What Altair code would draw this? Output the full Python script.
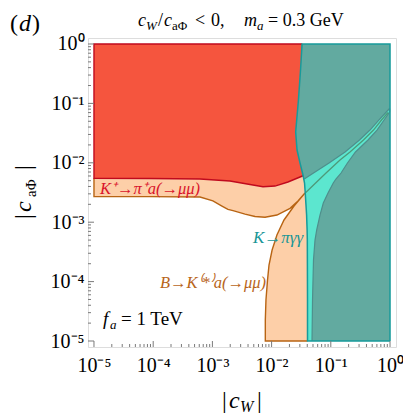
import altair as alt
import pandas as pd

# ---------------- data ----------------
# K+ -> pi+ a(->mu mu): lower boundary of the red excluded region
red_x = [1e-5, 8.83e-5, 6.18e-4, 1.98e-3, 4.32e-3, 7.16e-3, 1.14e-2, 1.89e-2, 3.02e-2, 3.81e-2]
red_y = [5.48e-3, 5.44e-3, 5.33e-3, 4.94e-3, 4.32e-3, 3.96e-3, 4.06e-3, 4.75e-3, 5.77e-3, 6.35e-3]

# B -> K(*) a(->mu mu): lower boundary (left part) of the orange region
bk_low_x = [1e-5, 8.83e-5, 6.18e-4, 1.02e-3, 1.45e-3, 1.83e-3, 2.23e-3, 3.56e-3, 5.25e-3,
            7.74e-3, 1.23e-2, 2.05e-2, 2.79e-2, 3.66e-2]
bk_low_y = [2.69e-3, 2.69e-3, 2.66e-3, 2.28e-3, 1.87e-3, 1.64e-3, 1.57e-3, 1.37e-3, 1.25e-3,
            1.21e-3, 1.32e-3, 1.71e-3, 2.28e-3, 3.10e-3]
# right (vertical) part of the orange region, x as function of y
bk_right_y = [3.10e-3, 1.87e-3, 1.09e-3, 6.09e-4, 3.40e-4, 1.90e-4, 1.06e-4, 4.90e-5, 2.26e-5, 1e-5]
bk_right_x = [3.66e-2, 2.39e-2, 1.62e-2, 1.23e-2, 1.02e-2, 9.04e-3, 8.53e-3, 8.03e-3, 7.83e-3, 7.83e-3]

# K -> pi gamma gamma: left boundary of the excluded region (x as function of y)
kpg_y = [1e-5, 4.90e-5, 2.31e-4, 5.01e-4, 7.40e-4, 1.32e-3, 2.10e-3, 3.10e-3, 4.57e-3,
         6.23e-3, 9.93e-3, 1.64e-2, 3.30e-2, 0.114, 0.365, 1.0]
kpg_x = [4.04e-2, 4.04e-2, 4.02e-2, 4.01e-2, 3.98e-2, 3.90e-2, 3.79e-2, 3.70e-2, 3.60e-2,
         3.39e-2, 3.02e-2, 2.69e-2, 2.55e-2, 2.84e-2, 3.08e-2, 3.27e-2]

# light cyan wedge (only K -> pi gamma gamma), bounds as functions of y
wedge_y = [1e-5, 4.90e-5, 2.31e-4, 5.01e-4, 7.40e-4, 1.32e-3, 2.10e-3, 3.10e-3, 4.57e-3,
           5.33e-3, 6.73e-3, 9.93e-3, 1.52e-2, 2.42e-2, 3.56e-2, 5.26e-2, 7.17e-2, 8.20e-2]
wedge_lo = [4.04e-2, 4.04e-2, 4.02e-2, 4.01e-2, 3.98e-2, 3.90e-2, 3.79e-2, 3.70e-2, 3.60e-2,
            3.56e-2, 5.10e-2, 9.33e-2, 0.174, 0.305, 0.459, 0.652, 0.866, 0.982]
wedge_hi = [4.81e-2, 4.91e-2, 5.10e-2, 5.41e-2, 5.78e-2, 6.57e-2, 7.47e-2, 8.97e-2, 0.110,
            0.122, 0.149, 0.191, 0.261, 0.425, 0.603, 0.793, 0.982, 0.982]

# thin continuation of the B -> K a boundary inside the cyan wedge
thin_x = [3.70e-2, 8.30e-2, 0.143, 0.211, 0.356, 0.526, 0.718, 0.925]
thin_y = [3.10e-3, 6.73e-3, 1.11e-2, 1.52e-2, 2.42e-2, 3.56e-2, 5.26e-2, 7.03e-2]

# axis ticks
major_ticks = [1e-5, 1e-4, 1e-3, 1e-2, 1e-1, 1.0]
tick_labels = ["10\u207b\u2075", "10\u207b\u2074", "10\u207b\u00b3", "10\u207b\u00b2", "10\u207b\u00b9", "10\u2070"]
minor_ticks = [m * 10.0 ** k for k in range(-5, 0) for m in range(2, 10)]

# in-plot annotations (data coordinates of text anchors)
ann_text = ["K\u207a\u2192\u03c0\u207aa(\u2192\u03bc\u03bc)", "K\u2192\u03c0\u03b3\u03b3",
            "B\u2192K\u207d*\u207ea(\u2192\u03bc\u03bc)"]
ann_x = [1.26e-5, 4.85e-3, 1.30e-4]
ann_y = [2.98e-3, 4.47e-4, 7.80e-5]
ann_size = [16.5, 17, 16.5]
ann_color = ["#d9142b", "#189696", "#b8651a"]

fa_x, fa_y = 1.42e-5, 1.86e-5

# ---------------- styling ----------------
W, H = 308, 309
LO, HI = 10 ** -5.101, 10 ** 0.101
SERIF = "Liberation Serif"
C_RED, C_RED_L = "#f5553e", "#c00a1e"
C_OR, C_OR_L = "#fdcfa8", "#b86413"
C_TEAL, C_TEAL_L = "#62aaa0", "#179b9b"
C_CYAN, C_WEDGE_L = "#5ce6cf", "#4e8f8c"

xs = alt.Scale(type="log", domain=[LO, HI], nice=False)
ys = alt.Scale(type="log", domain=[LO, HI], nice=False)


def label_expr(vals, labs):
    expr = "'" + labs[-1] + "'"
    for v, l in reversed(list(zip(vals[:-1], labs[:-1]))):
        expr = f"datum.value < {v * 3.1623:.3g} ? '{l}' : " + expr
    return expr


lexpr = label_expr(major_ticks, tick_labels)
x_axis = alt.Axis(values=major_ticks, labelExpr=lexpr, tickSize=0, ticks=False, domain=False,
                  grid=False, title=None, labelFont=SERIF, labelFontSize=20, labelColor="black",
                  labelPadding=8, labelFlush=False, labelOverlap=False)
y_axis = alt.Axis(values=major_ticks, labelExpr=lexpr, tickSize=0, ticks=False, domain=False,
                  grid=False, title=None, labelFont=SERIF, labelFontSize=20, labelColor="black",
                  labelPadding=4, labelFlush=False, labelOverlap=False)


def X(f):
    return alt.X(f, type="quantitative", scale=xs, axis=x_axis)


def Y(f):
    return alt.Y(f, type="quantitative", scale=ys, axis=y_axis)


layers = []

# orange region (left part): above the lower boundary
df_bk = pd.DataFrame({"x": bk_low_x, "y": bk_low_y, "top": [1.0] * len(bk_low_x)})
layers.append(alt.Chart(df_bk).mark_area(color=C_OR).encode(x=X("x"), y=Y("y"), y2="top"))

# orange region (right part)
df_bkr = pd.DataFrame({"y": bk_right_y, "x": bk_right_x, "xr": [5e-2] * len(bk_right_y)})
layers.append(alt.Chart(df_bkr).mark_area(color=C_OR, orient="horizontal").encode(
    y=Y("y"), x=X("x"), x2="xr"))

# orange outline
ol_x = [1e-5] + bk_low_x + bk_right_x[1:] + [4.04e-2]
ol_y = [red_y[0]] + bk_low_y + bk_right_y[1:] + [1e-5]
df_ol = pd.DataFrame({"x": ol_x, "y": ol_y, "i": list(range(len(ol_x)))})
layers.append(alt.Chart(df_ol).mark_line(color=C_OR_L, strokeWidth=1.4).encode(
    x=X("x"), y=Y("y"), order="i:Q"))

# red region
df_red = pd.DataFrame({"x": red_x, "y": red_y, "top": [1.0] * len(red_x)})
layers.append(alt.Chart(df_red).mark_area(color=C_RED).encode(x=X("x"), y=Y("y"), y2="top"))

# red outline
rl_x = red_x[::-1] + [1e-5, 3.3e-2]
rl_y = red_y[::-1] + [1.0, 1.0]
df_rl = pd.DataFrame({"x": rl_x, "y": rl_y, "i": list(range(len(rl_x)))})
layers.append(alt.Chart(df_rl).mark_line(color=C_RED_L, strokeWidth=1.4).encode(
    x=X("x"), y=Y("y"), order="i:Q"))

# K -> pi gamma gamma region (dark teal)
df_k = pd.DataFrame({"y": kpg_y, "x": kpg_x, "xr": [1.0] * len(kpg_y)})
layers.append(alt.Chart(df_k).mark_area(color=C_TEAL, orient="horizontal").encode(
    y=Y("y"), x=X("x"), x2="xr"))

# cyan wedge
df_w = pd.DataFrame({"y": wedge_y, "lo": wedge_lo, "hi": wedge_hi})
layers.append(alt.Chart(df_w).mark_area(color=C_CYAN, orient="horizontal").encode(
    y=Y("y"), x=X("lo"), x2="hi"))

# wedge boundaries
df_wu = pd.DataFrame({"x": wedge_lo[9:], "y": wedge_y[9:], "i": list(range(len(wedge_y[9:])))})
layers.append(alt.Chart(df_wu).mark_line(color=C_WEDGE_L, strokeWidth=1.2).encode(
    x=X("x"), y=Y("y"), order="i:Q"))
df_wd = pd.DataFrame({"x": wedge_hi, "y": wedge_y, "i": list(range(len(wedge_y)))})
layers.append(alt.Chart(df_wd).mark_line(color=C_WEDGE_L, strokeWidth=1.2).encode(
    x=X("x"), y=Y("y"), order="i:Q"))

# thin greenish line in wedge
df_t = pd.DataFrame({"x": thin_x, "y": thin_y, "i": list(range(len(thin_x)))})
layers.append(alt.Chart(df_t).mark_line(color="#4d9a7a", strokeWidth=1.3).encode(
    x=X("x"), y=Y("y"), order="i:Q"))

# teal outline
tl_x = [1.0] + kpg_x + [1.0, 1.0]
tl_y = [1e-5] + kpg_y + [1.0, 1e-5]
df_tl = pd.DataFrame({"x": tl_x, "y": tl_y, "i": list(range(len(tl_x)))})
layers.append(alt.Chart(df_tl).mark_line(color=C_TEAL_L, strokeWidth=1.5).encode(
    x=X("x"), y=Y("y"), order="i:Q"))

# tick marks (pointing inward)
TICK = "#7a7a7a"
df_maj = pd.DataFrame({"v": major_ticks})
df_min = pd.DataFrame({"v": minor_ticks})
layers.append(alt.Chart(df_maj).mark_rule(color=TICK, strokeWidth=1).encode(
    y=Y("v"), x=alt.value(0), x2=alt.value(6)))
layers.append(alt.Chart(df_min).mark_rule(color=TICK, strokeWidth=1).encode(
    y=Y("v"), x=alt.value(0), x2=alt.value(3)))
layers.append(alt.Chart(df_maj).mark_rule(color=TICK, strokeWidth=1).encode(
    x=X("v"), y=alt.value(H), y2=alt.value(H - 6)))
layers.append(alt.Chart(df_min).mark_rule(color=TICK, strokeWidth=1).encode(
    x=X("v"), y=alt.value(H), y2=alt.value(H - 3)))

# annotations inside plot
for t, ax_, ay_, sz, c in zip(ann_text, ann_x, ann_y, ann_size, ann_color):
    df_a = pd.DataFrame({"x": [ax_], "y": [ay_], "t": [t]})
    layers.append(alt.Chart(df_a).mark_text(
        font=SERIF, fontSize=sz, fontStyle="italic", color=c, align="left",
        baseline="alphabetic").encode(x=X("x"), y=Y("y"), text="t:N"))

df_fa = pd.DataFrame({"x": [fa_x], "y": [fa_y], "t1": ["f"], "t2": ["a"], "t3": ["= 1 TeV"]})
layers.append(alt.Chart(df_fa).mark_text(font=SERIF, fontSize=19, fontStyle="italic", color="black",
                                         align="left", baseline="alphabetic").encode(
    x=X("x"), y=Y("y"), text="t1:N"))
layers.append(alt.Chart(df_fa).mark_text(font=SERIF, fontSize=13, fontStyle="italic", color="black",
                                         align="left", baseline="alphabetic", dx=7, dy=4).encode(
    x=X("x"), y=Y("y"), text="t2:N"))
layers.append(alt.Chart(df_fa).mark_text(font=SERIF, fontSize=19, color="black",
                                         align="left", baseline="alphabetic", dx=18).encode(
    x=X("x"), y=Y("y"), text="t3:N"))

# texts outside the plot area (title, panel tag, axis titles); page coords minus origin (88, 38)
OX, OY = 88, 38
pieces = [
    # text, page x, page y, size, italic, angle
    ("(", 10, 31, 24, False, 0),
    ("d", 19, 31, 24, True, 0),
    (")", 32, 31, 24, False, 0),
    ("c", 138, 26, 18, True, 0),
    ("W", 146, 29.5, 13, True, 0),
    ("/", 158, 26, 18, False, 0),
    ("c", 164, 26, 18, True, 0),
    ("a\u03a6", 172, 29.5, 13, False, 0),
    ("<", 195, 26, 18, False, 0),
    ("0,", 211, 26, 18, False, 0),
    ("m", 244, 26, 18, True, 0),
    ("a", 257, 29.5, 13, True, 0),
    ("= 0.3 GeV", 268, 26, 18, False, 0),
    ("|", 222, 408, 24, False, 0),
    ("c", 229, 408, 24, True, 0),
    ("W", 240, 412, 16, True, 0),
    ("|", 257, 408, 24, False, 0),
    ("|", 31, 219, 24, False, 270),
    ("c", 31, 212, 24, True, 270),
    ("a\u03a6", 36, 197, 15, False, 270),
    ("|", 31, 170, 24, False, 270),
]
for t, px, py, sz, it, ang in pieces:
    kw = dict(font=SERIF, fontSize=sz, color="black", align="left", baseline="alphabetic", angle=ang)
    if it:
        kw["fontStyle"] = "italic"
    layers.append(alt.Chart(pd.DataFrame({"t": [t]})).mark_text(**kw).encode(
        x=alt.value(px - OX), y=alt.value(py - OY), text="t:N"))

chart = alt.layer(*layers).properties(
    width=W, height=H,
    autosize=alt.AutoSizeParams(type="none"),
    padding={"left": 80, "top": 30, "right": 7, "bottom": 72},
).configure_view(stroke="#a8a8a8", strokeWidth=1).configure(background="white")

chart.save("out.html", embed_options={"renderer": "svg", "actions": False})
